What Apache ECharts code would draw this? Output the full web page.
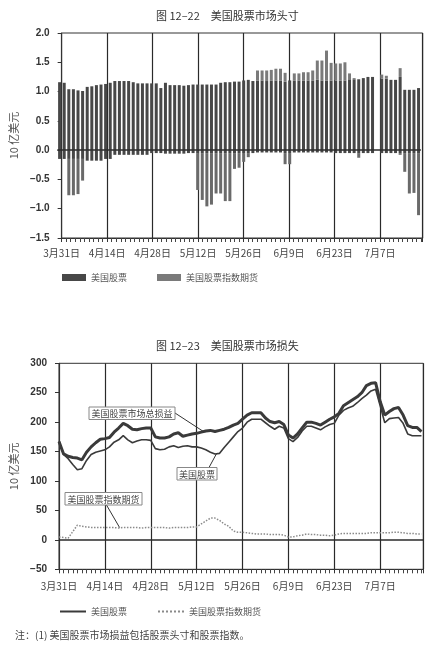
<!DOCTYPE html>
<html><head><meta charset="utf-8">
<script src="https://cdn.jsdelivr.net/npm/echarts@6/dist/echarts.min.js"></script>
<style>
html,body{margin:0;padding:0;background:#fff;width:434px;height:649px;overflow:hidden}
#c1{position:absolute;left:0;top:0;width:434px;height:320px}
#c2{position:absolute;left:0;top:320px;width:434px;height:329px}
</style>
</head><body><div id="c1"></div><div id="c2"></div>
<script>
// ---- x-axis tick labels (every 10 business days) ----
const tickLabels = ['3月31日','4月14日','4月28日','5月12日','5月26日','6月9日','6月23日','7月7日'];

// ---- Figure 12-22: positions (US$ bn), one bar per business day ----
const stockLong = [
 1.16,1.15,1.04,1.04,1.02,1.01,1.08,1.09,1.11,1.12,
 1.13,1.15,1.18,1.18,1.18,1.18,1.16,1.14,1.14,1.14,
 1.14,1.14,1.06,1.15,1.11,1.11,1.11,1.10,1.11,1.12,
 1.12,1.12,1.12,1.12,1.12,1.15,1.16,1.16,1.17,1.17,
 1.19,1.20,1.18,1.19,1.19,1.18,1.19,1.19,1.19,1.17,
 1.19,1.19,1.19,1.19,1.19,1.19,1.20,1.19,1.19,1.19,
 1.19,1.19,1.19,1.21,1.21,1.21,1.23,1.25,1.25,null,
 1.22,1.22,1.20,1.20,1.25,1.03,1.03,1.03,1.06];
const stockShort = [
 -0.15,-0.15,-0.15,-0.15,-0.15,-0.15,-0.18,-0.18,-0.18,-0.18,
 -0.15,-0.15,-0.08,-0.08,-0.08,-0.08,-0.08,-0.08,-0.08,-0.08,
 -0.05,-0.05,-0.05,-0.06,-0.06,-0.06,-0.06,-0.06,-0.05,-0.05,
 -0.05,-0.05,-0.05,-0.05,-0.05,-0.05,-0.05,-0.05,-0.05,-0.05,
 -0.05,-0.05,-0.05,-0.04,-0.04,-0.04,-0.04,-0.04,-0.04,-0.05,
 -0.05,-0.04,-0.04,-0.04,-0.04,-0.04,-0.04,-0.04,-0.04,-0.04,
 -0.05,-0.05,-0.05,-0.05,-0.05,-0.05,-0.05,-0.05,-0.05,null,
 -0.05,-0.05,-0.05,-0.05,-0.05,-0.05,-0.05,-0.05,-0.05];
const futLong = [
 0,0,0,0,0,0,0,0,0,0,
 0,0,0,0,0,0,0,0,0,0,
 0,0,0,0,0,0,0,0,0,0,
 0,0,0,0,0,0,0,0,0,0,
 0,0,0,0.17,0.17,0.18,0.18,0.20,0.20,0.15,
 0,0.12,0.12,0.14,0.14,0.17,0.33,0.34,0.51,0.30,
 0.29,0.29,0.31,0.10,0.02,0,0,0,0,null,
 0.07,0.05,0,0,0.15,0,0,0,0];
const futShort = [
 0,0,-0.62,-0.62,-0.60,-0.37,0,0,0,0,
 0,0,0,0,0,0,0,0,0,0,
 0,0,0,0,0,0,0,0,0,0,
 -0.63,-0.80,-0.91,-0.88,-0.69,-0.69,-0.82,-0.82,-0.27,-0.25,
 -0.15,-0.07,0,0,0,0,0,0,0,-0.19,
 -0.19,0,0,0,0,0,0,0,0,0,
 0,0,0,0,0,-0.08,0,0,0,null,
 0,0,0,0,-0.03,-0.32,-0.69,-0.68,-1.06];

// ---- Figure 12-23: P&L (US$ bn), one point per business day ----
const totalPL = [
 167,146,142,140,139,136,149,158,165,171,
 172,174,183,190,198,194,188,187,189,190,
 190,175,173,173,175,180,182,176,178,180,
 181,183,185,186,184,186,188,191,195,198,
 205,212,216,216,216,207,201,199,201,196,
 178,173,180,190,200,200,198,195,200,205,
 209,215,228,233,238,243,250,262,266,267,
 235,212,218,223,225,212,194,191,191,184];
const stockPL = [
 167,145,138,128,119,121,135,145,149,151,
 153,158,166,170,177,170,165,168,170,170,
 169,155,153,154,158,160,157,159,160,158,
 158,156,153,149,146,147,157,166,175,184,
 190,200,205,205,205,199,193,188,193,190,
 172,167,174,185,193,193,190,187,192,196,
 198,212,220,224,227,233,240,246,253,256,
 228,199,206,207,208,198,180,177,177,177];
const futPL = [
 5,4,3,14,25,23,22,21,21,21,
 21,21,21,20,21,21,21,21,20,21,
 21,21,21,21,20,21,21,21,21,22,
 22,27,32,37,37,33,27,23,15,13,
 13,12,11,10,10,10,9,9,9,8,
 5,5,7,8,10,9,9,8,8,7,
 8,10,11,11,11,11,11,11,12,12,
 12,12,12,13,13,12,11,11,10,10];

const fontCJK = '"Noto Sans CJK SC","Noto Sans",sans-serif';
const fontNum = '"Liberation Sans","DejaVu Sans",sans-serif';
const pair = (arr, off) => arr.map((v, i) => [i + off, v]);
const X_MAX = 79.4;

function xAxisCfg(margin, gridIndex) {
  return {
    type: 'value', min: 0, max: X_MAX, interval: 10, gridIndex: gridIndex,
    axisLine: { show: true, onZero: false, lineStyle: { color: '#333', width: 1 } },
    axisTick: { show: true, length: 4, lineStyle: { color: '#333' } },
    minorTick: { show: true, splitNumber: 10, length: 4, lineStyle: { color: '#444' } },
    splitLine: { show: true, lineStyle: { color: '#2a2a2a', width: 1.2 } },
    minorSplitLine: { show: false },
    axisLabel: {
      margin: margin, fontSize: 10, color: '#444', fontFamily: fontCJK,
      showMaxLabel: false,
      formatter: v => (v % 10 === 0 && tickLabels[v / 10]) ? tickLabels[v / 10] : ''
    }
  };
}
function yAxisCfg(min, max, interval, fmt) {
  return {
    type: 'value', min: min, max: max, interval: interval,
    name: '10 亿美元', nameLocation: 'middle', nameGap: 40,
    nameTextStyle: { fontSize: 11, color: '#555', fontFamily: fontCJK },
    axisLine: { show: true, lineStyle: { color: '#333' } },
    axisTick: { show: true, length: 4, lineStyle: { color: '#333' } },
    splitLine: { show: false },
    axisLabel: { margin: 12, fontSize: 10, fontWeight: 'bold', color: '#333', fontFamily: fontNum, formatter: fmt }
  };
}
const zeroLine = {
  silent: true, symbol: 'none', label: { show: false },
  lineStyle: { color: '#2a2a2a', type: 'solid', width: 1.5 },
  data: [{ yAxis: 0 }]
};

// ================= Chart 1 =================
const c1 = echarts.init(document.getElementById('c1'));
const g1 = { left: 57.3, top: 33, height: 205, width: 365.4 };
const barDays = stockLong.map((_, i) => String(i));
const barBase = { type: 'bar', stack: 'pos', barWidth: 3, xAxisIndex: 1, yAxisIndex: 1 };
c1.setOption({
  animation: false,
  title: { text: '图 12–22　美国股票市场头寸', left: 151, top: 5,
    textStyle: { fontSize: 11, fontWeight: 'normal', color: '#333', fontFamily: fontCJK } },
  grid: [
    Object.assign({ show: true, borderColor: '#333', borderWidth: 1 }, g1),
    // bar grid: one band per business day, same scale as the axis grid
    { left: g1.left, top: g1.top, height: g1.height, width: g1.width * barDays.length / X_MAX }
  ],
  legend: { data: ['美国股票', '美国股票指数期货'], left: 57, top: 268, icon: 'rect',
    itemWidth: 24, itemHeight: 7, itemGap: 30, selectedMode: false,
    textStyle: { fontSize: 9, color: '#555', fontFamily: fontCJK } },
  xAxis: [
    xAxisCfg(10, 0),
    { type: 'category', gridIndex: 1, data: barDays, boundaryGap: true, show: false }
  ],
  yAxis: [
    Object.assign(yAxisCfg(-1.5, 2.0, 0.5, v => v.toFixed(1).replace('-', '−')), { gridIndex: 0 }),
    { type: 'value', gridIndex: 1, min: -1.5, max: 2.0, interval: 0.5, show: false, splitLine: { show: false } }
  ],
  series: [
    Object.assign({}, barBase, { name: '美国股票', data: stockLong, itemStyle: { color: '#474747' }, markLine: zeroLine }),
    Object.assign({}, barBase, { name: '美国股票', data: stockShort, itemStyle: { color: '#474747' } }),
    Object.assign({}, barBase, { name: '美国股票指数期货', data: futLong, itemStyle: { color: '#7a7a7a' } }),
    Object.assign({}, barBase, { name: '美国股票指数期货', data: futShort, itemStyle: { color: '#6a6a6a' } })
  ]
});

// ================= Chart 2 =================
const c2 = echarts.init(document.getElementById('c2'));
c2.setOption({
  animation: false,
  title: { text: '图 12–23　美国股票市场损失', left: 151, top: 15,
    textStyle: { fontSize: 11, fontWeight: 'normal', color: '#333', fontFamily: fontCJK } },
  grid: { left: 55.3, right: 10.7, top: 43.3, height: 206, show: true, borderColor: '#333', borderWidth: 1 },
  legend: { data: ['美国股票', '美国股票指数期货'], left: 54, top: 282,
    itemWidth: 26, itemHeight: 10, itemGap: 30, selectedMode: false,
    itemStyle: { opacity: 0 },
    textStyle: { fontSize: 9, color: '#555', fontFamily: fontCJK } },
  xAxis: xAxisCfg(12, 0),
  yAxis: yAxisCfg(-50, 300, 50, v => String(v).replace('-', '−')),
  series: [
    { name: '美国股票指数期货', type: 'line', symbol: 'none', data: pair(futPL, 0),
      lineStyle: { color: '#8a8a8a', width: 1.5, type: 'dotted' }, itemStyle: { color: '#8a8a8a' }, markLine: zeroLine },
    { name: '美国股票', type: 'line', symbol: 'none', data: pair(stockPL, 0),
      lineStyle: { color: '#3a3a3a', width: 1.6 }, itemStyle: { color: '#3a3a3a' } },
    { name: '美国股票市场总损益', type: 'line', symbol: 'none', data: pair(totalPL, 0),
      lineStyle: { color: '#3a3a3a', width: 3 }, itemStyle: { color: '#3a3a3a' } }
  ]
});

// annotation boxes with leader lines pointing to data points
const p1 = c2.convertToPixel({ gridIndex: 0 }, [31.5, 184]);
const p2 = c2.convertToPixel({ gridIndex: 0 }, [34.3, 146]);
const p3 = c2.convertToPixel({ gridIndex: 0 }, [13.2, 21]);
function box(x, y, w, h, txt) {
  return [
    { type: 'rect', shape: { x: x, y: y, width: w, height: h }, style: { fill: '#fff', stroke: '#888', lineWidth: 1 }, z: 100 },
    { type: 'text', x: x + w / 2, y: y + h / 2 + 0.5, style: { text: txt, fill: '#444', fontSize: 9, fontFamily: fontCJK, align: 'center', verticalAlign: 'middle' }, z: 101 }
  ];
}
function leader(x1, y1, p) {
  return { type: 'line', shape: { x1: x1, y1: y1, x2: p[0], y2: p[1] }, style: { stroke: '#333', lineWidth: 1 }, z: 99 };
}
c2.setOption({
  graphic: [].concat(
    [leader(175, 93, p1)], box(89, 87, 86, 12.5, '美国股票市场总损益'),
    [leader(209, 147.5, p2)], box(177, 147.5, 40, 12.5, '美国股票'),
    [leader(106.5, 185, p3)], box(65, 172.5, 77, 12.5, '美国股票指数期货'),
    [{ type: 'text', x: 15, y: 315, style: { text: '注：(1) 美国股票市场损益包括股票头寸和股票指数。', fill: '#444', fontSize: 10, fontFamily: fontCJK, verticalAlign: 'middle' } }]
  )
});
</script>
</body></html>
